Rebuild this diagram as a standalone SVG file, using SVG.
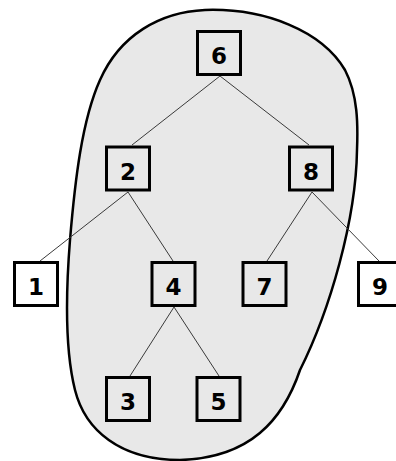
<svg xmlns="http://www.w3.org/2000/svg" width="396" height="461" viewBox="0 0 396 461">
<style>
.blob{fill:#e8e8e8;stroke:#000;stroke-width:2.5}
.edge{stroke:#3a3a3a;stroke-width:1;fill:none}
.box{fill:none;stroke:#000;stroke-width:3}
.out{fill:#fff}
.lbl{font-family:"DejaVu Sans",Verdana,sans-serif;font-weight:bold;font-size:23px;text-anchor:middle;fill:#000}
</style>
<rect width="396" height="461" fill="#fff"/>
<path class="blob" d="M205,10 C265,8 322,31 345,70 C358,95 358,125 357,150 C356,220 330,310 300,370 C283,420 250,458 180,460 C120,460 85,430 75,390 C65,350 66,290 70,240 C75,180 82,120 100,80 C120,35 160,12 205,10 Z"/>
<g id="connectors">
<line class="edge" x1="220" y1="76" x2="132" y2="145"/>
<line class="edge" x1="220" y1="76" x2="309" y2="145"/>
<line class="edge" x1="128" y1="192" x2="40" y2="261"/>
<line class="edge" x1="128" y1="192" x2="173" y2="261"/>
<line class="edge" x1="312" y1="192" x2="267" y2="261"/>
<line class="edge" x1="312" y1="192" x2="379" y2="261"/>
<line class="edge" x1="174" y1="307" x2="130" y2="376"/>
<line class="edge" x1="174" y1="307" x2="219" y2="376"/>
</g>
<g id="n6"><rect class="box" x="197.5" y="31.5" width="43" height="43"/><text class="lbl" x="219" y="64">6</text></g>
<g id="n2"><rect class="box" x="106.5" y="147" width="43" height="43"/><text class="lbl" x="128" y="180">2</text></g>
<g id="n8"><rect class="box" x="289.5" y="147" width="43" height="43"/><text class="lbl" x="311" y="180">8</text></g>
<g id="n1"><rect class="box out" x="14.5" y="262.5" width="43" height="43"/><text class="lbl" x="36" y="295">1</text></g>
<g id="n4"><rect class="box" x="152" y="262.5" width="43" height="43"/><text class="lbl" x="173.5" y="295">4</text></g>
<g id="n7"><rect class="box" x="243" y="262.5" width="43" height="43"/><text class="lbl" x="264.5" y="295">7</text></g>
<g id="n9"><rect class="box out" x="358.5" y="262.5" width="43" height="43"/><text class="lbl" x="380" y="295">9</text></g>
<g id="n3"><rect class="box" x="106.5" y="377.5" width="43" height="43"/><text class="lbl" x="128" y="410">3</text></g>
<g id="n5"><rect class="box" x="197" y="377.5" width="43" height="43"/><text class="lbl" x="218.5" y="410">5</text></g>
</svg>
